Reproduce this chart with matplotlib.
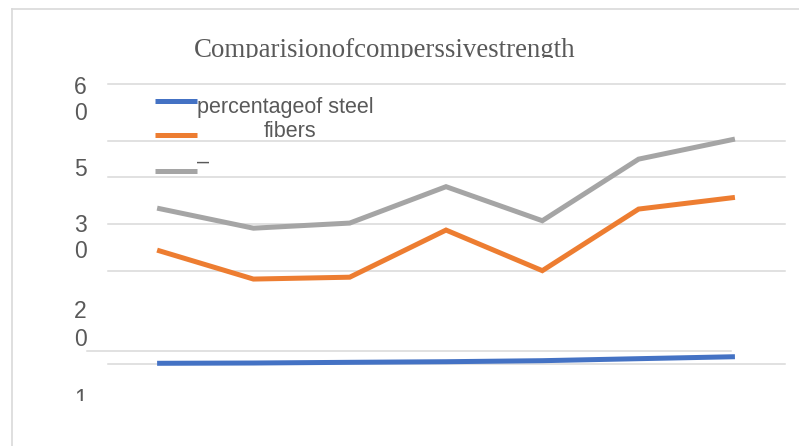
import matplotlib

matplotlib.use("Agg")
import matplotlib.pyplot as plt
from matplotlib.lines import Line2D
from matplotlib.transforms import Bbox, TransformedBbox

W, H = 799, 446

# Mix numbers along the x axis
mixes = [0, 1, 2, 3, 4, 5, 6]

# Series values
steel_fibres = [0.15, 0.21, 0.36, 0.49, 0.71, 1.14, 1.56]
strength_a = [24.4, 18.2, 18.6, 28.7, 20.0, 33.2, 35.7]
strength_b = [33.4, 29.1, 30.2, 38.0, 30.7, 43.9, 48.2]

series_colors = ["#4472C4", "#ED7D31", "#A5A5A5"]

# Horizontal grid levels (value units)
grid_levels = [60, 47.8, 40, 30, 20, 0]
short_grid_level = 2.8

# Broken-up axis labels as they come out of the source document
axis_pieces = ["6", "0", "5", "3", "0", "2", "0", "1"]
axis_piece_rows = [88, 113, 170, 225, 251, 311, 339, 400]

TITLE = "Comparisionofcomperssivestrength"
LEGEND_TEXT = ["percentageof steel", "fibers", "\u2013"]

TEXT_GREY = "#595959"
GRID_GREY = "#D9D9D9"


def fx(px):
    return px / W


def fy(py):
    return 1 - py / H


def clipAbove(fig, artist, py):
    """Clip an artist so that nothing below pixel row py is drawn."""
    box = TransformedBbox(Bbox([[0, fy(py)], [1, 1]]), fig.transFigure)
    artist.set_clip_box(box)
    artist.set_clip_on(True)


def plot():
    fig = plt.figure(figsize=(W / 100, H / 100), dpi=100)
    fig.patch.set_facecolor("white")

    # Outer chart frame (only top and left edges show)
    fig.add_artist(Line2D([fx(12), fx(12)], [fy(9), 0], color=GRID_GREY, lw=1.2))
    fig.add_artist(Line2D([fx(12), 1], [fy(9), fy(9)], color=GRID_GREY, lw=1.2))

    ax = fig.add_axes([fx(108), fy(364), fx(785) - fx(108), fy(84) - fy(364)])
    ax.set_xlim(-0.51, 6.52)
    ax.set_ylim(0, 60)
    ax.axis("off")

    for level in grid_levels:
        ax.axhline(level, color=GRID_GREY, lw=1.1, zorder=1, clip_on=False)
    ax.axhline(short_grid_level, xmin=-0.031, xmax=0.92, color=GRID_GREY,
               lw=1.1, zorder=1, clip_on=False)

    for values, color in zip([steel_fibres, strength_a, strength_b], series_colors):
        ax.plot(mixes, values, color=color, lw=3.6, solid_joinstyle="miter",
                solid_capstyle="butt", zorder=3, clip_on=False)

    # Title, cut off along its baseline
    title = fig.text(fx(385), fy(57), TITLE, ha="center", va="baseline",
                     fontsize=19.4, family="Liberation Serif", color=TEXT_GREY)
    clipAbove(fig, title, 58)

    # Axis label fragments
    for piece, row in zip(axis_pieces, axis_piece_rows):
        t = fig.text(fx(80.5), fy(row), piece, ha="center", va="center",
                     fontsize=16.5, family="Liberation Sans", color=TEXT_GREY)
        if piece == "1":
            clipAbove(fig, t, 401)

    # Legend
    for row, color in zip([101, 135.5, 170.5], series_colors):
        fig.add_artist(Line2D([fx(155), fx(197)], [fy(row), fy(row)], color=color,
                              lw=3.6, solid_capstyle="butt"))
    fig.text(fx(197), fy(113), LEGEND_TEXT[0], ha="left", va="baseline",
             fontsize=15.5, family="Liberation Sans", color=TEXT_GREY)
    fig.text(fx(290), fy(137), LEGEND_TEXT[1], ha="center", va="baseline",
             fontsize=15.5, family="Liberation Sans", color=TEXT_GREY)
    fig.text(fx(197), fy(168), LEGEND_TEXT[2], ha="left", va="baseline",
             fontsize=15.5, family="Liberation Sans", color=TEXT_GREY)

    fig.savefig("out.png", dpi=100, facecolor="white")


def main():
    plot()


main()
